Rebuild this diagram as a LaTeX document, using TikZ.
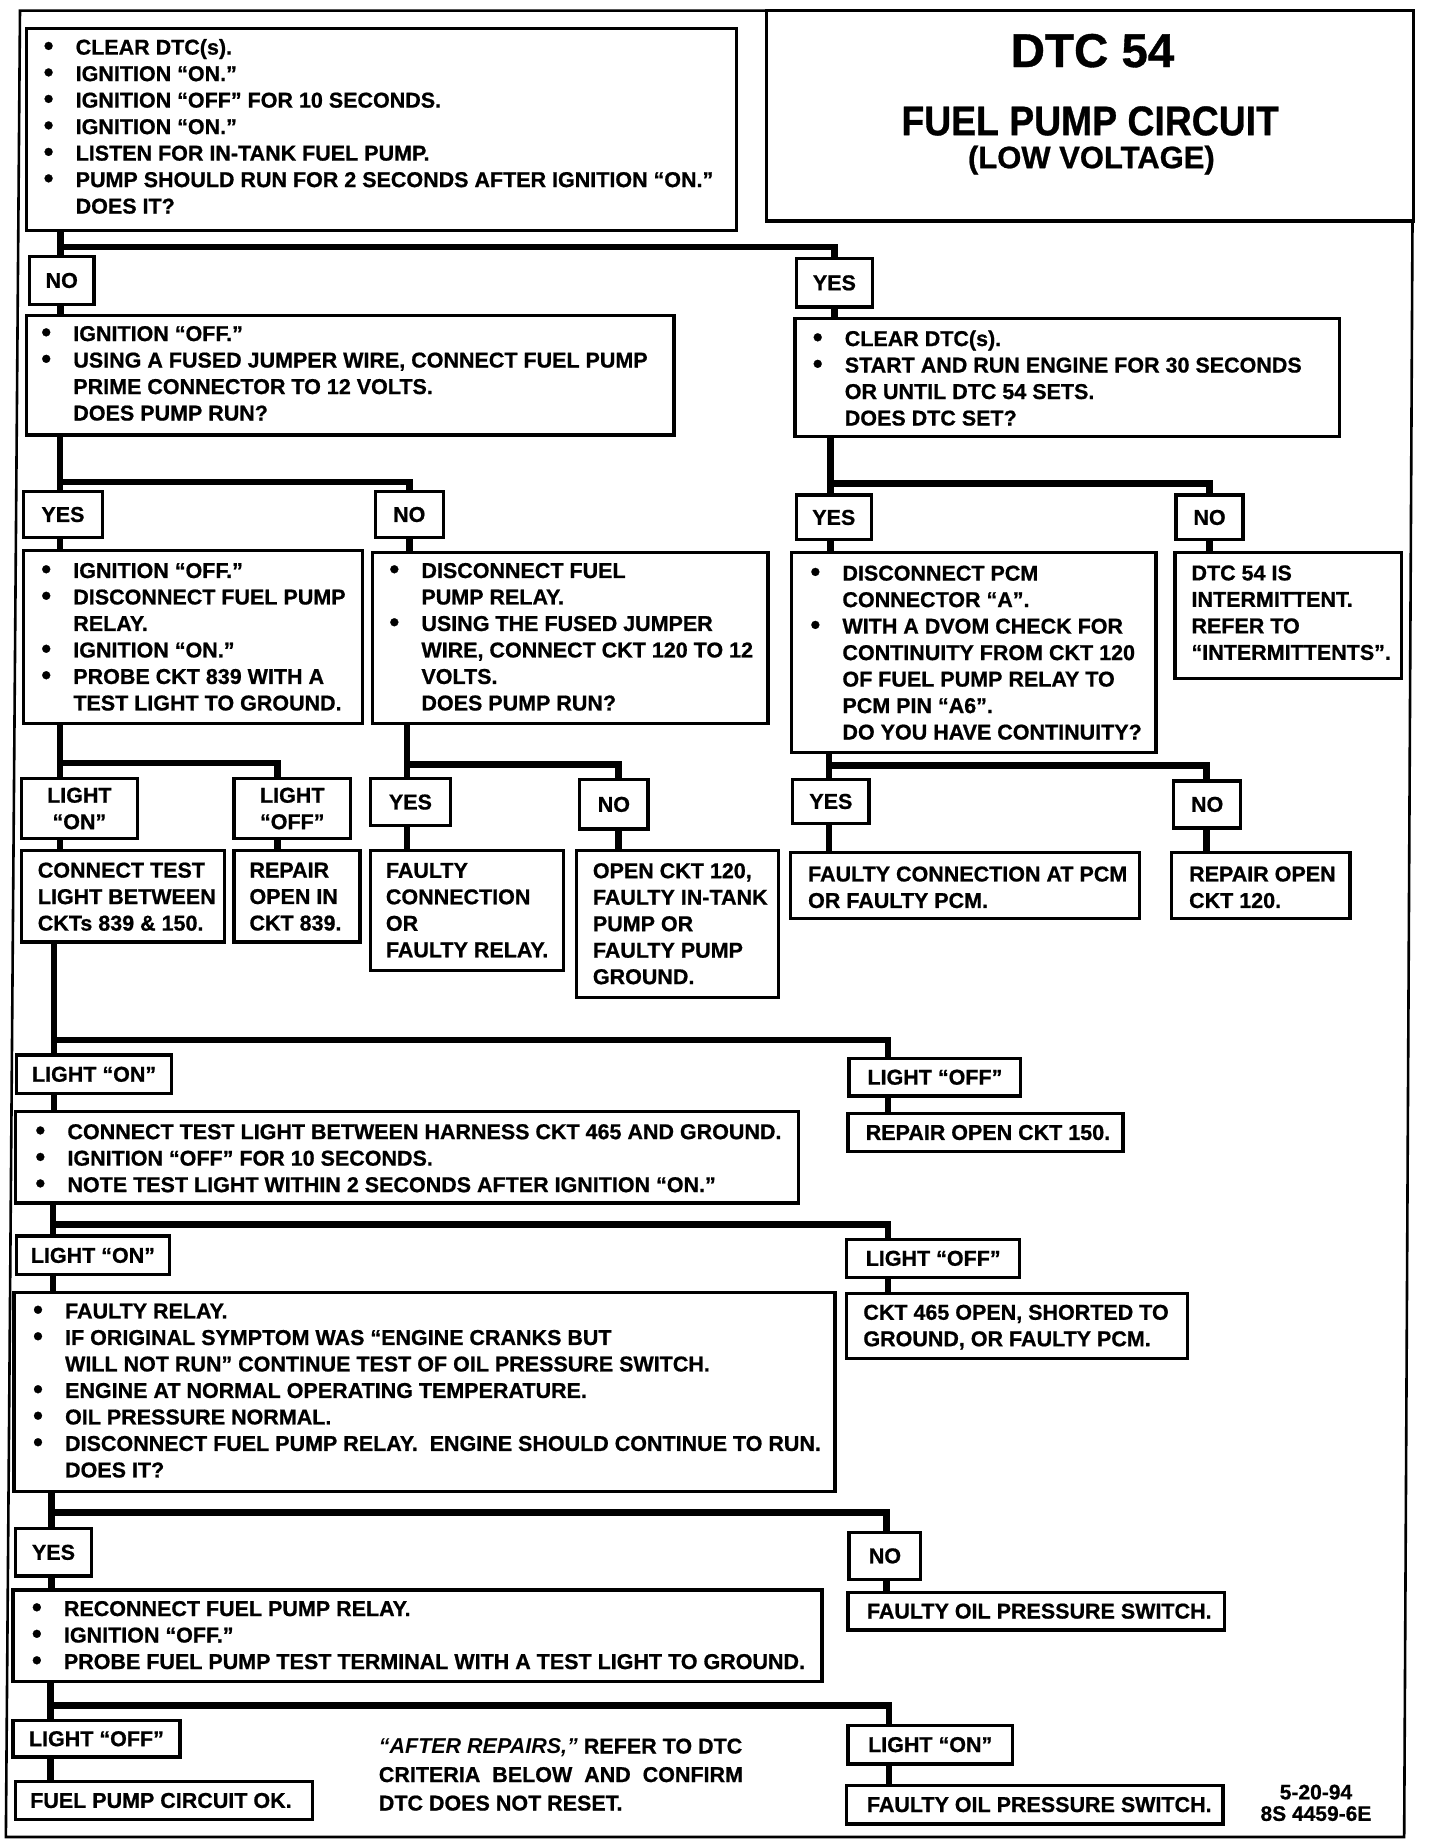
\documentclass[tikz,border=0pt]{standalone}
\usepackage{fontspec}
\setmainfont{Liberation Sans}[BoldFeatures={FakeBold=0.8}]
\usetikzlibrary{fit}
\newcommand\bodyfont{\fontsize{21.5}{26.5}\selectfont\bfseries}
\newcommand\bl{\makebox[32pt][l]{\raisebox{-0.5pt}{\scalebox{1.3}{•}}}}
\newcommand\ind{\hspace*{32pt}}
\newcommand\mkbox[5]{\node[bx, fit={(#2,#3) (#4,#5)}] (#1) {};}
\newcommand\mklbl[6]{\node[lbl, minimum width={(#4-#2)*1.17647pt}, minimum height={(#5-#3)*1.17647pt}] (#1) at ({(#2+#4)/2},{(#3+#5)/2}) {#6};}
\tikzset{
  bx/.style={draw, line width=3.3pt, inner sep=0pt, fill=white},
  lbl/.style={bx, align=center, font=\bodyfont},
  txt/.style={inner sep=0pt, align=left, anchor=west, font=\bodyfont},
  conn/.style={line width=6.5pt},
  frame/.style={line width=2.6pt},
}
\begin{document}
\begin{tikzpicture}[x=1.17647pt, y=-1.17647pt]
\fill[white] (0,0) rectangle (1224,1568);
\useasboundingbox (0,0) rectangle (1224,1568);

% outer frame
\draw[frame] (17,9) -- (1202,9) -- (1194,1562) -- (5,1562) -- cycle;

% title
\mkbox{title}{652}{9}{1202}{188}
\node[anchor=base, inner sep=0pt, font=\fontsize{47.5}{50}\selectfont\bfseries] (ttl1) at (929,57) {DTC 54};
\node[anchor=base, inner sep=0pt, font=\fontsize{41.5}{44}\selectfont\bfseries] (ttl2) at (927,115) {\scalebox{0.9}[1]{FUEL PUMP CIRCUIT}};
\node[anchor=base, inner sep=0pt, font=\fontsize{31}{34}\selectfont\bfseries] (ttl3) at (928,143) {(LOW VOLTAGE)};

% level 1
\mkbox{b1}{22.7}{24}{626}{196}
\node[txt] (b1t) at (37,107.5) {\bl CLEAR DTC(s).\\\bl IGNITION “ON.”\\\bl IGNITION “OFF” FOR 10 SECONDS.\\\bl IGNITION “ON.”\\\bl LISTEN FOR IN-TANK FUEL PUMP.\\\bl PUMP SHOULD RUN FOR 2 SECONDS AFTER IGNITION “ON.”\\\ind DOES IT?};

\mklbl{no1}{25}{218}{80}{259}{NO}
\mklbl{yes1}{677}{220}{742}{261}{YES}

% level 2
\mkbox{b2}{22.7}{268}{573}{370}
\node[txt] (b2t) at (35,317.5) {\bl IGNITION “OFF.”\\\bl USING A FUSED JUMPER WIRE, CONNECT FUEL PUMP\\\ind PRIME CONNECTOR TO 12 VOLTS.\\\ind DOES PUMP RUN?};
\mkbox{bR}{676}{271}{1139}{371}
\node[txt] (bRt) at (691,321.5) {\bl CLEAR DTC(s).\\\bl START AND RUN ENGINE FOR 30 SECONDS\\\ind OR UNTIL DTC 54 SETS.\\\ind DOES DTC SET?};

\mklbl{yes2}{20}{418}{87}{457}{YES}
\mklbl{no2}{319}{418}{377}{457}{NO}
\mklbl{yes2r}{677}{421}{741}{459}{YES}
\mklbl{no2r}{1000}{421}{1057}{459}{NO}

% level 3
\mkbox{b3a}{20}{468}{308}{615}
\node[txt] (b3at) at (35,541.5) {\bl IGNITION “OFF.”\\\bl DISCONNECT FUEL PUMP\\\ind RELAY.\\\bl IGNITION “ON.”\\\bl PROBE CKT 839 WITH A\\\ind TEST LIGHT TO GROUND.};
\mkbox{b3b}{317}{470}{653}{615}
\node[txt] (b3bt) at (331,541.5) {\bl DISCONNECT FUEL\\\ind PUMP RELAY.\\\bl USING THE FUSED JUMPER\\\ind WIRE, CONNECT CKT 120 TO 12\\\ind VOLTS.\\\ind DOES PUMP RUN?};
\mkbox{b3c}{673}{470}{983}{640}
\node[txt] (b3ct) at (689,555) {\bl DISCONNECT PCM\\\ind CONNECTOR “A”.\\\bl WITH A DVOM CHECK FOR\\\ind CONTINUITY FROM CKT 120\\\ind OF FUEL PUMP RELAY TO\\\ind PCM PIN “A6”.\\\ind DO YOU HAVE CONTINUITY?};
\mkbox{b3d}{999}{470}{1192}{577}
\node[txt] (b3dt) at (1013,521) {DTC 54 IS\\INTERMITTENT.\\REFER TO\\“INTERMITTENTS”.};

\mklbl{lon3}{18}{662}{117}{713}{LIGHT\\“ON”}
\mklbl{loff3}{199}{662}{298}{713}{LIGHT\\“OFF”}
\mklbl{yes3b}{315}{662}{383}{702}{YES}
\mklbl{no3b}{493}{663}{551}{705}{NO}
\mklbl{yes3c}{674}{663}{739}{700}{YES}
\mklbl{no3c}{998}{664}{1055}{704}{NO}

% level 4
\mkbox{con3}{18}{723}{191}{801}
\node[txt] (con3t) at (32,762.5) {CONNECT TEST\\LIGHT BETWEEN\\CKTs 839 \& 150.};
\mkbox{rep3}{199}{723}{306}{801}
\node[txt] (rep3t) at (212,762.5) {REPAIR\\OPEN IN\\CKT 839.};
\mkbox{fty3}{315}{723}{479}{825}
\node[txt] (fty3t) at (328,774) {FAULTY\\CONNECTION\\OR\\FAULTY RELAY.};
\mkbox{open3}{490}{723}{662}{848}
\node[txt] (open3t) at (504,785.5) {OPEN CKT 120,\\FAULTY IN-TANK\\PUMP OR\\FAULTY PUMP\\GROUND.};
\mkbox{pcm3}{672}{725}{969}{781}
\node[txt] (pcm3t) at (687,754.5) {FAULTY CONNECTION AT PCM\\OR FAULTY PCM.};
\mkbox{rep120}{996}{725}{1148}{781}
\node[txt] (rep120t) at (1011,754.5) {REPAIR OPEN\\CKT 120.};

% level 5
\mklbl{lon4}{14}{897}{146}{930}{LIGHT “ON”}
\mklbl{loff4}{722}{900}{868}{932}{LIGHT “OFF”}
\mkbox{b4}{13}{945}{679}{1023}
\node[txt] (b4t) at (30,985) {\bl CONNECT TEST LIGHT BETWEEN HARNESS CKT 465 AND GROUND.\\\bl IGNITION “OFF” FOR 10 SECONDS.\\\bl NOTE TEST LIGHT WITHIN 2 SECONDS AFTER IGNITION “ON.”};
\mkbox{rep150}{721}{947}{955}{979}
\node[txt] (rep150t) at (736,963) {REPAIR OPEN CKT 150.};

% level 6
\mklbl{lon5}{14}{1051}{144}{1084}{LIGHT “ON”}
\mklbl{loff5}{720}{1054}{867}{1086}{LIGHT “OFF”}
\mkbox{b5}{12}{1099}{710}{1268}
\node[txt] (b5t) at (28,1182.5) {\bl FAULTY RELAY.\\\bl IF ORIGINAL SYMPTOM WAS “ENGINE CRANKS BUT\\\ind WILL NOT RUN” CONTINUE TEST OF OIL PRESSURE SWITCH.\\\bl ENGINE AT NORMAL OPERATING TEMPERATURE.\\\bl OIL PRESSURE NORMAL.\\\bl DISCONNECT FUEL PUMP RELAY.\ \ ENGINE SHOULD CONTINUE TO RUN.\\\ind DOES IT?};
\mkbox{ckt465}{720}{1100}{1010}{1155}
\node[txt] (ckt465t) at (734,1128.5) {CKT 465 OPEN, SHORTED TO\\GROUND, OR FAULTY PCM.};

% level 7
\mklbl{yes6}{13}{1300}{78}{1340}{YES}
\mklbl{no6}{722}{1303}{783}{1343}{NO}
\mkbox{b6}{11}{1352}{699}{1430}
\node[txt] (b6t) at (27,1390.5) {\bl RECONNECT FUEL PUMP RELAY.\\\bl IGNITION “OFF.”\\\bl PROBE FUEL PUMP TEST TERMINAL WITH A TEST LIGHT TO GROUND.};
\mkbox{oil1}{721}{1354}{1041}{1386}
\node[txt] (oil1t) at (737,1370) {FAULTY OIL PRESSURE SWITCH.};

% level 8
\mklbl{loff7}{11}{1463}{153}{1494}{LIGHT “OFF”}
\mklbl{lon7}{721}{1467}{861}{1500}{LIGHT “ON”}
\mkbox{ok7}{13}{1515}{266}{1547}
\node[txt] (ok7t) at (25.5,1531) {FUEL PUMP CIRCUIT OK.};
\mkbox{oil2}{720}{1518}{1040}{1551}
\node[txt] (oil2t) at (737,1534.5) {FAULTY OIL PRESSURE SWITCH.};

\node[txt, font=\fontsize{21.5}{28.5}\selectfont\bfseries] (note) at (322,1509) {\textit{“AFTER REPAIRS,”} REFER TO DTC\\CRITERIA\ \ BELOW\ \ AND\ \ CONFIRM\\DTC DOES NOT RESET.};
\node[align=center, inner sep=0pt, font=\fontsize{21}{21.5}\selectfont\bfseries] (date) at (1119,1533) {5-20-94\\8S 4459-6E};

% junction coordinates
\coordinate (t1) at (51.5,210);
\coordinate (t2) at (51,410);
\coordinate (t2r) at (706,411);
\coordinate (t3a) at (51,649);  \coordinate (e3a) at (236,649);
\coordinate (t3b) at (346,650); \coordinate (e3b) at (526,650);
\coordinate (t3c) at (705,651); \coordinate (e3c) at (1026,651);
\coordinate (t4) at (46,884.5); \coordinate (e4) at (755,884.5);
\coordinate (t5) at (45,1041);  \coordinate (e5) at (755,1041);
\coordinate (t6) at (44,1286);  \coordinate (e6) at (754,1286);
\coordinate (t7) at (43,1450);  \coordinate (e7) at (756,1450);

% connectors
\draw[conn] (b1.south -| t1) -- (no1.north -| t1);
\draw[conn] (t1) -| (yes1.north);
\draw[conn] (no1.south -| t1) -- (b2.north -| t1);
\draw[conn] (yes1.south) -- (bR.north -| yes1.south);

\draw[conn] (b2.south -| t2) -- (yes2.north -| t2);
\draw[conn] (t2) -| (no2.north);
\draw[conn] (yes2.south -| t2) -- (b3a.north -| t2);
\draw[conn] (no2.south) -- (b3b.north -| no2.south);

\draw[conn] (bR.south -| t2r) -- (yes2r.north -| t2r);
\draw[conn] (t2r) -| (no2r.north);
\draw[conn] (yes2r.south -| t2r) -- (b3c.north -| t2r);
\draw[conn] (no2r.south) -- (b3d.north -| no2r.south);

\draw[conn] (b3a.south -| t3a) -- (lon3.north -| t3a);
\draw[conn] (t3a) -- (e3a) -- (loff3.north -| e3a);
\draw[conn] (lon3.south -| t3a) -- (con3.north -| t3a);
\draw[conn] (loff3.south -| e3a) -- (rep3.north -| e3a);

\draw[conn] (b3b.south -| t3b) -- (yes3b.north -| t3b);
\draw[conn] (t3b) -- (e3b) -- (no3b.north -| e3b);
\draw[conn] (yes3b.south -| t3b) -- (fty3.north -| t3b);
\draw[conn] (no3b.south -| e3b) -- (open3.north -| e3b);

\draw[conn] (b3c.south -| t3c) -- (yes3c.north -| t3c);
\draw[conn] (t3c) -- (e3c) -- (no3c.north -| e3c);
\draw[conn] (yes3c.south -| t3c) -- (pcm3.north -| t3c);
\draw[conn] (no3c.south -| e3c) -- (rep120.north -| e3c);

\draw[conn] (con3.south -| t4) -- (lon4.north -| t4);
\draw[conn] (t4) -- (e4) -- (loff4.north -| e4);
\draw[conn] (lon4.south -| t4) -- (b4.north -| t4);
\draw[conn] (loff4.south -| e4) -- (rep150.north -| e4);

\draw[conn] (b4.south -| t5) -- (lon5.north -| t5);
\draw[conn] (t5) -- (e5) -- (loff5.north -| e5);
\draw[conn] (lon5.south -| t5) -- (b5.north -| t5);
\draw[conn] (loff5.south -| e5) -- (ckt465.north -| e5);

\draw[conn] (b5.south -| t6) -- (yes6.north -| t6);
\draw[conn] (t6) -- (e6) -- (no6.north -| e6);
\draw[conn] (yes6.south -| t6) -- (b6.north -| t6);
\draw[conn] (no6.south -| e6) -- (oil1.north -| e6);

\draw[conn] (b6.south -| t7) -- (loff7.north -| t7);
\draw[conn] (t7) -- (e7) -- (lon7.north -| e7);
\draw[conn] (loff7.south -| t7) -- (ok7.north -| t7);
\draw[conn] (lon7.south -| e7) -- (oil2.north -| e7);
\end{tikzpicture}
\end{document}
